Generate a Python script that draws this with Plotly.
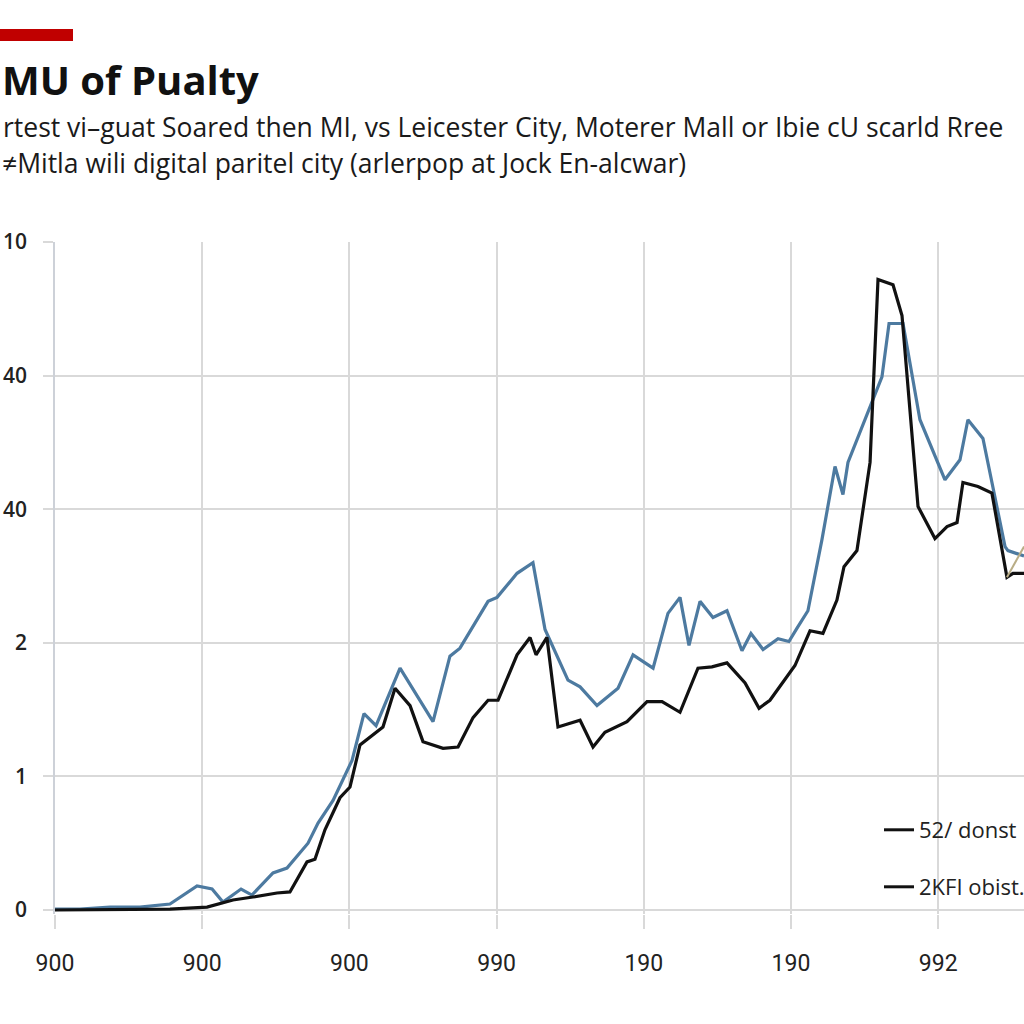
import plotly.graph_objects as go

# ---- data ----
x_blue = [0, 1.70, 3.74, 5.77, 7.81, 9.65, 10.67, 11.41, 12.64, 13.38, 14.81, 15.76, 17.19, 17.87,
          18.89, 20.18, 20.99, 21.81, 23.44, 25.68, 26.83, 27.51, 29.42, 30.03, 31.39, 32.47, 33.29,
          34.85, 35.67, 36.82, 38.25, 39.27, 40.63, 41.64, 42.46, 43.07, 43.82, 44.70, 45.65, 46.67,
          47.28, 48.10, 49.12, 49.86, 50.41, 51.15, 52.10, 52.99, 53.53, 53.87, 56.18, 56.66, 57.61,
          58.76, 60.46, 61.48, 62.02, 63.04, 64.54, 64.74, 65.83]
y_blue = [0.007, 0.007, 0.022, 0.022, 0.045, 0.18, 0.157, 0.06, 0.157, 0.112, 0.277, 0.314, 0.50, 0.65,
          0.82, 1.12, 1.47, 1.38, 1.81, 1.41, 1.90, 1.96, 2.31, 2.34, 2.52, 2.60, 2.10,
          1.72, 1.67, 1.53, 1.66, 1.91, 1.81, 2.22, 2.34, 1.98, 2.31, 2.19, 2.24, 1.94,
          2.07, 1.95, 2.03, 2.01, 2.11, 2.24, 2.77, 3.32, 3.11, 3.35, 3.99, 4.39, 4.39,
          3.67, 3.22, 3.37, 3.67, 3.53, 2.72, 2.69, 2.65]

x_black = [0, 7.81, 10.33, 12.09, 13.45, 15.08, 15.96, 17.12, 17.66, 18.34, 19.36, 20.04, 20.72,
           22.28, 23.10, 24.12, 25.00, 26.36, 27.38, 28.40, 29.42, 30.10, 31.39, 32.27, 32.68, 33.42,
           34.17, 35.67, 36.55, 37.36, 38.86, 40.22, 41.24, 42.46, 43.68, 44.63, 45.65, 46.88, 47.83,
           48.57, 50.27, 51.29, 52.17, 53.12, 53.60, 54.48, 55.37, 55.91, 56.93, 57.54, 58.63, 59.78,
           60.60, 61.28, 61.68, 62.70, 63.65, 64.67, 65.08, 65.83]
y_black = [0, 0.007, 0.022, 0.075, 0.097, 0.127, 0.135, 0.36, 0.38, 0.60, 0.84, 0.92, 1.235,
           1.37, 1.66, 1.53, 1.26, 1.21, 1.22, 1.44, 1.57, 1.57, 1.91, 2.04, 1.91, 2.04,
           1.37, 1.42, 1.22, 1.33, 1.41, 1.56, 1.56, 1.48, 1.81, 1.82, 1.85, 1.70, 1.51,
           1.57, 1.83, 2.09, 2.07, 2.32, 2.57, 2.69, 3.35, 4.72, 4.68, 4.45, 3.02, 2.78,
           2.87, 2.90, 3.20, 3.17, 3.12, 2.49, 2.52, 2.52]

x_tan = [64.67, 65.83]
y_tan = [2.49, 2.72]

x_tickvals = [0, 10, 20, 30, 40, 50, 60]
x_ticktext = ["900", "900", "900", "990", "190", "190", "992"]
y_tickvals = [0, 1, 2, 3, 4, 5]
y_ticktext = ["0", "1", "2", "40", "40", "10"]

legend_names = ["52/ donst", "2KFI obist."]

title_text = "MU of Pualty"
subtitle_1 = "rtest vi\u2013guat Soared then MI, vs Leicester City, Moterer Mall or Ibie cU scarld Rree"
subtitle_2 = "\u2260Mitla wili digital paritel city (arlerpop at Jock En-alcwar)"

# ---- figure ----
GRID = "#d9d9d9"
fig = go.Figure()
fig.add_trace(go.Scatter(x=x_blue, y=y_blue, mode="lines", showlegend=False,
                         line=dict(color="#4d7aa0", width=3.2)))
fig.add_trace(go.Scatter(x=x_black, y=y_black, mode="lines", showlegend=False,
                         line=dict(color="#111111", width=3.2)))
fig.add_trace(go.Scatter(x=x_tan, y=y_tan, mode="lines", showlegend=False,
                         line=dict(color="#b9ad86", width=2)))
fig.add_trace(go.Scatter(x=[None], y=[None], mode="lines", name=legend_names[0],
                         line=dict(color="#111111", width=3), legend="legend"))
fig.add_trace(go.Scatter(x=[None], y=[None], mode="lines", name=legend_names[1],
                         line=dict(color="#111111", width=3), legend="legend2"))

PLOT_L, PLOT_R, PLOT_T, PLOT_B = 55, 1024, 242, 914
PW, PH = PLOT_R - PLOT_L, PLOT_B - PLOT_T


def px(xp):
    return (xp - PLOT_L) / PW


def py(yp):
    return (PLOT_B - yp) / PH


leg_common = dict(bgcolor="rgba(0,0,0,0)", font=dict(family="Open Sans", size=22, color="#222"),
                  xanchor="left", yanchor="middle")

fig.update_layout(
    width=1024, height=1024,
    margin=dict(l=PLOT_L, r=0, t=PLOT_T, b=1024 - PLOT_B, pad=0, autoexpand=False),
    paper_bgcolor="white", plot_bgcolor="white",
    font=dict(family="Open Sans", color="#222"),
    legend=dict(x=px(879), y=py(830), **leg_common),
    legend2=dict(x=px(879), y=py(887), **leg_common),
    xaxis=dict(range=[0, (PLOT_R - PLOT_L) / 14.72], tickvals=x_tickvals, ticktext=x_ticktext,
               automargin=False,
               showgrid=True, gridcolor=GRID, gridwidth=1.5, zeroline=False, showline=False,
               ticks="outside", ticklen=14, tickcolor=GRID, tickwidth=1.5,
               ticklabelstandoff=14,
               tickfont=dict(family="Roboto", size=23, color="#222")),
    yaxis=dict(range=[-0.03, 5.0], tickvals=y_tickvals, ticktext=y_ticktext,
               automargin=False,
               showgrid=True, gridcolor=GRID, gridwidth=1.5, zeroline=False,
               showline=True, linecolor="#cdd1d8", linewidth=1.5,
               ticks="outside", ticklen=10, tickcolor=GRID, tickwidth=1.5,
               ticklabelstandoff=12,
               tickfont=dict(family="Open Sans", size=21, color="#222", weight=600)),
    shapes=[dict(type="rect", xref="paper", yref="paper", x0=px(-5), x1=px(73),
                 y0=py(41), y1=py(29), fillcolor="#c00000", line=dict(width=0))],
    annotations=[
        dict(text="<b>" + title_text + "</b>", xref="paper", yref="paper", x=px(0), y=py(80),
             xanchor="left", yanchor="middle", showarrow=False,
             font=dict(family="Open Sans", size=40, color="#111")),
        dict(text=subtitle_1, xref="paper", yref="paper", x=px(1), y=py(127),
             xanchor="left", yanchor="middle", showarrow=False,
             font=dict(family="Open Sans", size=26.5, color="#1a1a1a")),
        dict(text=subtitle_2, xref="paper", yref="paper", x=px(0), y=py(163),
             xanchor="left", yanchor="middle", showarrow=False,
             font=dict(family="Open Sans", size=26.5, color="#1a1a1a")),
    ],
)

fig.write_html("out.html")
